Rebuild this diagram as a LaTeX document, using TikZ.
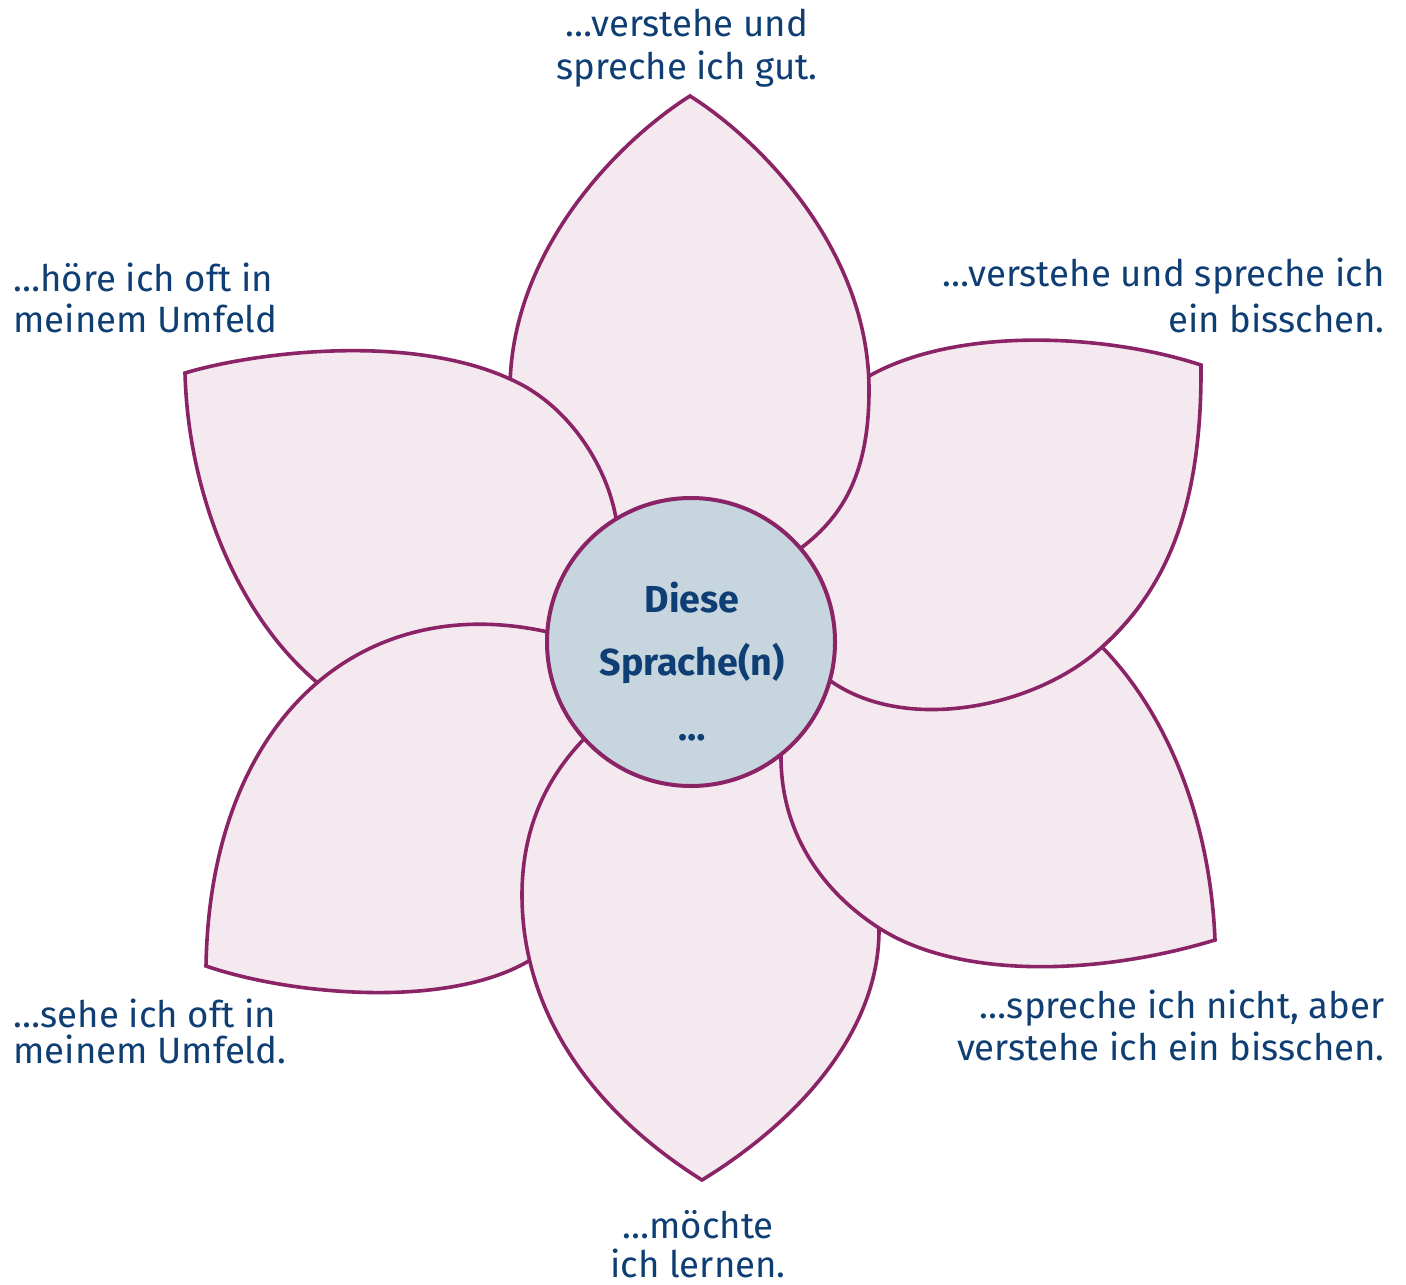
\documentclass[tikz,border=0pt]{standalone}
\usepackage{fontspec}
\setmainfont{Fira Sans}
\definecolor{petalline}{RGB}{139,35,103}
\definecolor{petalfill}{RGB}{244,233,239}
\definecolor{centerfill}{RGB}{198,213,222}
\definecolor{txt}{RGB}{14,62,115}
\begin{document}
\begin{tikzpicture}[x=0.5pt,y=-0.5pt,
  petal/.style={fill=petalfill,draw=petalline,line width=1.8pt,line join=miter},
  lbl/.style={text=txt,inner sep=0pt,font=\fontsize{18.3}{21}\selectfont},
  ctr/.style={text=txt,inner sep=0pt,font=\fontsize{18.8}{22}\selectfont\bfseries},
  core/.style={circle,draw=petalline,fill=centerfill,line width=2pt,minimum size=144pt,inner sep=0pt}]
\useasboundingbox (0,0) rectangle (1406,1284);

% right-upper petal
\path[petal] (765,530) .. controls (780,460) and (820,400) .. (869,376)
  .. controls (960,325) and (1110,335) .. (1201,365)
  .. controls (1202,510) and (1165,590) .. (1102,647)
  .. controls (1040,705) and (910,735) .. (832,682) -- (800,665) -- cycle;
% top petal
\path[petal] (580,600) .. controls (540,560) and (510,470) .. (510,390)
  .. controls (510,250) and (620,140) .. (690,96)
  .. controls (760,140) and (869,250) .. (869,390)
  .. controls (869,470) and (845,515) .. (801,548) -- (760,580) -- cycle;
% left-upper petal
\path[petal] (570,690) -- (640,560) -- (617,525)
  .. controls (610,470) and (570,405) .. (510,379)
  .. controls (410,333) and (255,352) .. (185,373)
  .. controls (188,490) and (235,610) .. (312,678)
  .. controls (360,725) and (480,725) .. (570,690) -- cycle;
% left-lower petal
\path[petal] (640,770) -- (600,645) -- (548,632)
  .. controls (360,590) and (210,720) .. (206,966)
  .. controls (290,995) and (450,1010) .. (532,959)
  .. controls (580,930) and (620,850) .. (640,770) -- cycle;
% bottom petal
\path[petal] (620,715) -- (583,740)
  .. controls (545,780) and (522,830) .. (522,895)
  .. controls (522,1010) and (590,1110) .. (702,1180)
  .. controls (800,1120) and (880,1030) .. (879,928)
  .. controls (885,850) and (870,760) .. (815,700) -- cycle;
% right-lower petal
\path[petal] (781,754) .. controls (780,830) and (820,890) .. (879,928)
  .. controls (960,980) and (1100,975) .. (1215,940)
  .. controls (1210,820) and (1168,715) .. (1102,647)
  .. controls (1060,610) and (900,615) .. (820,635) -- cycle;
% right-upper petal again, lower part on top of right-lower petal
\begin{scope}
  \clip (700,605) rectangle (1300,800);
  \path[petal] (765,530) .. controls (780,460) and (820,400) .. (869,376)
    .. controls (960,325) and (1110,335) .. (1201,365)
    .. controls (1202,510) and (1165,590) .. (1102,647)
    .. controls (1040,705) and (910,735) .. (832,682) -- (800,665) -- cycle;
\end{scope}

% centre
\node[core] (centre) at (691,642) {};
\node[ctr,anchor=base] (c1) at (692,612) {Diese};
\node[ctr,anchor=base] (c2) at (692,675) {Sprache(n)};
\node[ctr,anchor=base] (c3) at (692,740) {…};

% labels
\node[lbl,anchor=base] (t1) at (687,37) {…verstehe und};
\node[lbl,anchor=base] (t2) at (687,80) {spreche ich gut.};
\node[lbl,anchor=base east] (ru1) at (1385,286) {…verstehe und spreche ich};
\node[lbl,anchor=base east] (ru2) at (1385,332) {ein bisschen.};
\node[lbl,anchor=base east] (rl1) at (1385,1018) {…spreche ich nicht, aber};
\node[lbl,anchor=base east] (rl2) at (1385,1060) {verstehe ich ein bisschen.};
\node[lbl,anchor=base] (b1) at (698,1238) {…möchte};
\node[lbl,anchor=base] (b2) at (698,1277) {ich lernen.};
\node[lbl,anchor=base west] (ll1) at (13,1027) {…sehe ich oft in};
\node[lbl,anchor=base west] (ll2) at (13,1063) {meinem Umfeld.};
\node[lbl,anchor=base west] (lu1) at (13,291) {…höre ich oft in};
\node[lbl,anchor=base west] (lu2) at (13,332) {meinem Umfeld};
\end{tikzpicture}
\end{document}
